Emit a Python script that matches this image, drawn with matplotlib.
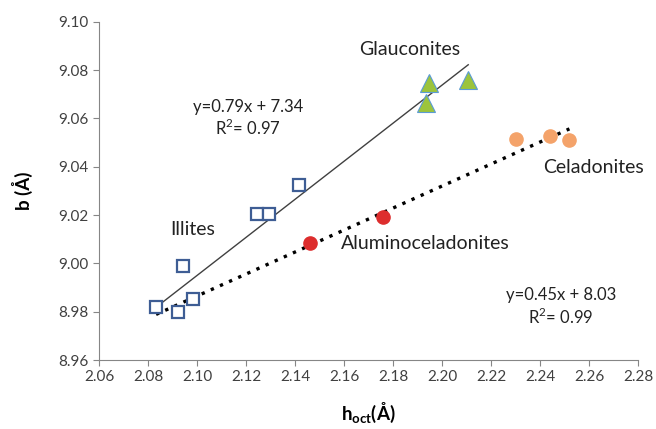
import numpy as np
import matplotlib
matplotlib.use("Agg")
import matplotlib.pyplot as plt

plt.rcParams['font.family'] = ['Lato', 'DejaVu Sans']
plt.rcParams['mathtext.fontset'] = 'custom'
plt.rcParams['mathtext.rm'] = 'Lato'
plt.rcParams['mathtext.bf'] = 'Lato:bold'

# data
illite_x = [2.0833, 2.0924, 2.0985, 2.0944, 2.1244, 2.1295, 2.1416]
illite_y = [8.9818, 8.9797, 8.9854, 8.9990, 9.0203, 9.0203, 9.0325]
glauc_x = [2.1948, 2.1935, 2.2107]
glauc_y = [9.0746, 9.0663, 9.0759]
alcel_x = [2.1461, 2.1760]
alcel_y = [9.0084, 9.0193]
celad_x = [2.2301, 2.2441, 2.2520]
celad_y = [9.0514, 9.0525, 9.0511]

xticks = [2.06, 2.08, 2.10, 2.12, 2.14, 2.16, 2.18, 2.20, 2.22, 2.24, 2.26, 2.28]
yticks = [8.96, 8.98, 9.00, 9.02, 9.04, 9.06, 9.08, 9.10]

fig = plt.figure(figsize=(6.56, 4.29), dpi=100)
ax = fig.add_axes([0.1509, 0.1608, 0.8217, 0.7886])

# trend lines
sx = np.array(illite_x + glauc_x)
sy = np.array(illite_y + glauc_y)
k1, b1 = np.polyfit(sx, sy, 1)
xs = np.array([sx.min(), sx.max()])
ax.plot(xs, k1 * xs + b1, color='#404040', lw=1.0, zorder=2)

dx = np.array(illite_x[:3] + alcel_x + celad_x)
dy = np.array(illite_y[:3] + alcel_y + celad_y)
k2, b2 = np.polyfit(dx, dy, 1)
xd = np.array([dx.min(), dx.max()])
ax.plot(xd, k2 * xd + b2, color='black', lw=2.4, linestyle=(0, (1, 2.0)), zorder=2)

ax.plot(illite_x, illite_y, 's', ms=8, mfc='white', mec='#3e5d94', mew=1.6, zorder=3)
ax.plot(glauc_x, glauc_y, '^', ms=12.5, mfc='#9cc43c', mec='#5b9bd5', mew=0.8, zorder=3)
ax.plot(alcel_x, alcel_y, 'o', ms=9.5, mfc='#dd2d2d', mec='#dd2d2d', zorder=3)
ax.plot(celad_x, celad_y, 'o', ms=9.5, mfc='#f4a36a', mec='#f4a36a', zorder=3)

ax.set_xlim(2.06, 2.28)
ax.set_ylim(8.96, 9.10)
ax.set_xticks(xticks)
ax.set_yticks(yticks)
ax.set_xticklabels([f"{v:.2f}" for v in xticks])
ax.set_yticklabels([f"{v:.2f}" for v in yticks])
for s in ['top', 'right']:
    ax.spines[s].set_visible(False)
for s in ['left', 'bottom']:
    ax.spines[s].set_color('#868686')
ax.tick_params(direction='out', length=4, color='#868686', labelsize=11,
               labelcolor='#404040')

ax.set_xlabel(r"$\mathbf{h_{oct}}$(Å)", fontsize=13.5, fontweight='bold', labelpad=12)
ax.set_ylabel("b (Å)", fontsize=13.5, fontweight='bold', labelpad=18)

tc = '#222222'
ax.text(2.187, 9.0884, "Glauconites", fontsize=14, ha='center', va='center', color=tc)
ax.text(2.1208, 9.060, "y=0.79x + 7.34\nR$^2$= 0.97", fontsize=12, ha='center',
        va='center', color=tc, linespacing=1.2)
ax.text(2.0984, 9.0142, "Illites", fontsize=14, ha='center', va='center', color=tc)
ax.text(2.1930, 9.0084, "Aluminoceladonites", fontsize=14, ha='center', va='center', color=tc)
ax.text(2.262, 9.0395, "Celadonites", fontsize=14, ha='center', va='center', color=tc)
ax.text(2.2486, 8.9820, "y=0.45x + 8.03\nR$^2$= 0.99", fontsize=12, ha='center',
        va='center', color=tc, linespacing=1.2)

fig.savefig("out.png", dpi=100)
